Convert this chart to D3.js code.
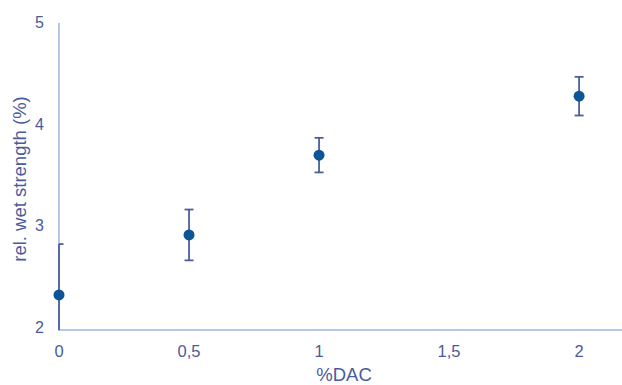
<!DOCTYPE html>
<html>
<head>
<meta charset="utf-8">
<script src="https://cdn.jsdelivr.net/npm/d3@7"></script>
<style>
  body { margin: 0; background: #fff; }
  svg { display: block; }
</style>
</head>
<body>
<div id="chart"></div>
<script>
// data
var dac = [0, 0.5, 1, 2];
var strength = [2.345, 2.935, 3.72, 4.30];
var errLow = [0.50, 0.25, 0.17, 0.19];
var errHigh = [0.50, 0.25, 0.17, 0.19];
var xTicks = [0, 0.5, 1, 1.5, 2];
var yTicks = [2, 3, 4, 5];

var width = 622, height = 385;
var margin = {top: 25, left: 59, right: 0, bottom: 55};

var svg = d3.select("#chart")
            .append("svg")
            .attr("width", width)
            .attr("height", height);

var x = d3.scaleLinear()
          .domain([0, 2.165])
          .range([margin.left, width - margin.right]);

var y = d3.scaleLinear()
          .domain([2, 5])
          .range([height - margin.bottom, margin.top]);

var font = "Liberation Sans, Arial, sans-serif",
    textColor = "#4a5b9b",
    axisColor = "#b7c8e6",
    barColor = "#4b5f9f",
    dotColor = "#0c5597";

// axes
svg.append("line")
   .attr("x1", x(0)).attr("x2", x(0))
   .attr("y1", y(5) - 2).attr("y2", y(2))
   .attr("stroke", axisColor).attr("stroke-width", 2);

svg.append("line")
   .attr("x1", x(0) - 1).attr("x2", width)
   .attr("y1", y(2)).attr("y2", y(2))
   .attr("stroke", axisColor).attr("stroke-width", 2);

svg.selectAll(".ytick")
   .data(yTicks)
   .enter()
   .append("text")
       .attr("x", x(0) - 15)
       .attr("y", function(d) { return y(d) + 3; })
       .attr("text-anchor", "end")
       .attr("font-family", font)
       .attr("font-size", 16)
       .attr("fill", textColor)
       .text(function(d) { return d; });

svg.selectAll(".xtick")
   .data(xTicks)
   .enter()
   .append("text")
       .attr("x", function(d) { return x(d); })
       .attr("y", y(2) + 27)
       .attr("text-anchor", "middle")
       .attr("font-family", font)
       .attr("font-size", 16.5)
       .attr("fill", textColor)
       .text(function(d) { return String(d).replace(".", ","); });

svg.append("text")
   .attr("x", 344)
   .attr("y", 381)
   .attr("text-anchor", "middle")
   .attr("font-family", font)
   .attr("font-size", 18.5)
   .attr("fill", textColor)
   .text("%DAC");

svg.append("text")
   .attr("transform", "translate(26,179) rotate(-90)")
   .attr("text-anchor", "middle")
   .attr("font-family", font)
   .attr("font-size", 18.5)
   .attr("fill", textColor)
   .text("rel. wet strength (%)");

// error bars
var pts = dac.map(function(d, i) {
    return {x: d, y: strength[i], lo: Math.max(2, strength[i] - errLow[i]), hi: strength[i] + errHigh[i]};
});

var eb = svg.append("g")
            .attr("stroke", barColor)
            .attr("stroke-width", 1.8);

eb.selectAll(".stem")
  .data(pts)
  .enter()
  .append("line")
      .attr("x1", function(d) { return x(d.x); })
      .attr("x2", function(d) { return x(d.x); })
      .attr("y1", function(d) { return y(d.lo); })
      .attr("y2", function(d) { return y(d.hi); });

eb.selectAll(".capHi")
  .data(pts)
  .enter()
  .append("line")
      .attr("x1", function(d) { return Math.max(x(0), x(d.x) - 4.5); })
      .attr("x2", function(d) { return x(d.x) + 4.5; })
      .attr("y1", function(d) { return y(d.hi); })
      .attr("y2", function(d) { return y(d.hi); });

eb.selectAll(".capLo")
  .data(pts.filter(function(d) { return d.lo > 2; }))
  .enter()
  .append("line")
      .attr("x1", function(d) { return x(d.x) - 4.5; })
      .attr("x2", function(d) { return x(d.x) + 4.5; })
      .attr("y1", function(d) { return y(d.lo); })
      .attr("y2", function(d) { return y(d.lo); });

// markers
svg.selectAll("circle")
   .data(pts)
   .enter()
   .append("circle")
       .attr("cx", function(d) { return x(d.x); })
       .attr("cy", function(d) { return y(d.y); })
       .attr("r", 5.5)
       .attr("fill", dotColor);
</script>
</body>
</html>
